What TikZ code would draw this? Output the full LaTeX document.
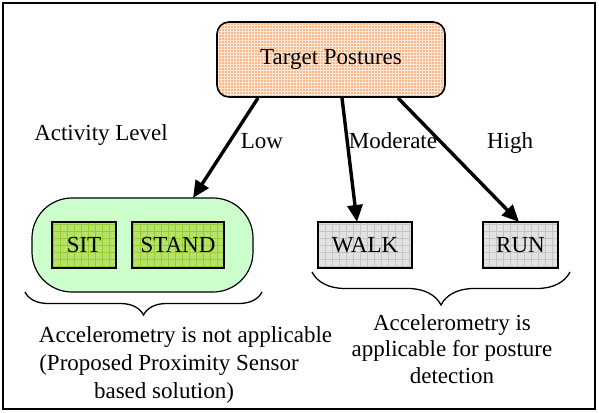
\documentclass[tikz,border=0pt]{standalone}
\usepackage{fontspec}
\setmainfont{Liberation Serif}
\usetikzlibrary{arrows.meta,decorations.pathreplacing}
\definecolor{tgtfill}{HTML}{FAB888}
\definecolor{tgtgrid}{HTML}{FFE8D8}
\definecolor{grpfill}{HTML}{CCFFCC}
\definecolor{limefill}{HTML}{B5E36A}
\definecolor{limegrid}{HTML}{98CC30}
\definecolor{grayfill}{HTML}{E2E2E2}
\definecolor{graygrid}{HTML}{C4C4C4}
\begin{document}
\begin{tikzpicture}[x=1pt,y=-1pt,
  txt/.style={font=\fontsize{23}{27}\selectfont, inner sep=0pt, anchor=base},
  posebox/.style={draw, line width=1.6pt, minimum height=46pt, inner sep=0pt, font=\fontsize{23}{27}\selectfont},
  limegridded/.style={fill=limefill, path picture={\draw[limegrid, line width=0.5pt, step=7pt] (path picture bounding box.south west) grid (path picture bounding box.north east);}},
  graygridded/.style={fill=grayfill, path picture={\draw[graygrid, line width=0.5pt, step=7pt] (path picture bounding box.south west) grid (path picture bounding box.north east);}},
  arr/.style={line width=3.4pt, -{Triangle[length=17pt,width=15pt]}},
  brc/.style={decorate, decoration={brace, mirror, amplitude=#1}, line width=1.3pt}]
\useasboundingbox (0,0) rectangle (599,412);
\draw[line width=1.5pt] (3,3) rectangle (595,409);
% top
\node[draw, line width=1.6pt, rounded corners=12pt, fill=tgtfill,
  path picture={\draw[tgtgrid, line width=0.7pt, step=3pt] (path picture bounding box.south west) grid (path picture bounding box.north east);},
  minimum width=228pt, minimum height=75pt, font=\fontsize{23}{27}\selectfont] (tgt) at (331,59.5) {Target Postures};
% group
\node[draw, line width=1.2pt, fill=grpfill, rounded corners=40pt, minimum width=221pt, minimum height=94pt] (grp) at (142.5,245) {};
\node[posebox, limegridded, minimum width=64pt] (sit) at (84,245) {SIT};
\node[posebox, limegridded, minimum width=92pt] (stand) at (178,245) {STAND};
\node[posebox, graygridded, minimum width=94pt] (walk) at (365,245) {WALK};
\node[posebox, graygridded, minimum width=75pt] (run) at (520.5,245) {RUN};
% arrows
\coordinate (lowS) at (258,98);
\coordinate (modS) at (342,98);
\coordinate (hiS) at (398,98);
\coordinate (lowE) at (193,198);
\coordinate (modE) at (357,222);
\coordinate (hiE) at (519,222);
\draw[arr] (lowS) -- (lowE);
\draw[arr] (modS) -- (modE);
\draw[arr] (hiS) -- (hiE);
% labels
\node[txt] (act) at (101,140) {Activity Level};
\node[txt] (low) at (262,148) {Low};
\node[txt] (mod) at (393,148) {Moderate};
\node[txt] (high) at (510,148) {High};
% braces
\coordinate (b1a) at (25,292);
\coordinate (b1b) at (262,292);
\coordinate (b2a) at (312,272);
\coordinate (b2b) at (570,272);
\draw[brc=23pt] (b1a) -- (b1b);
\draw[brc=33pt] (b2a) -- (b2b);
% bottom texts
\node[txt] (l1) at (185.5,342) {Accelerometry is not applicable};
\node[txt] (l2) at (169,370) {(Proposed Proximity Sensor};
\node[txt] (l3) at (164,398) {based solution)};
\node[txt] (r1) at (452,330) {Accelerometry is};
\node[txt] (r2) at (452,356) {applicable for posture};
\node[txt] (r3) at (452,383) {detection};
\end{tikzpicture}
\end{document}
